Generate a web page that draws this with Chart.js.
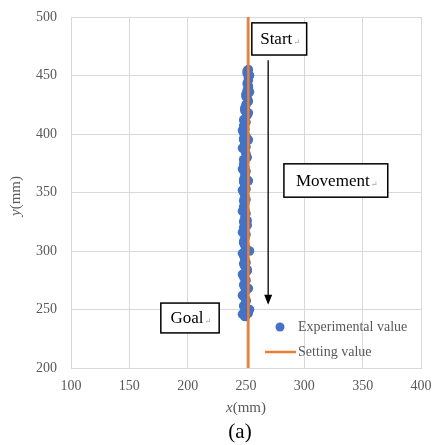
<!DOCTYPE html>
<html>
<head>
<meta charset="utf-8">
<script src="https://cdn.jsdelivr.net/npm/chart.js@4"></script>
<style>
  html, body { margin: 0; padding: 0; background: #fff; overflow: hidden; }
  #wrap { width: 432px; height: 445px; position: relative; }
</style>
</head>
<body>
<div id="wrap"><canvas id="chart_path"></canvas></div>
<script>
// experimental path (mm)
let exp_x = [252, 251, 252, 252, 251, 252, 251, 250, 251, 252, 250, 249, 250, 251, 249, 250, 248, 249, 248, 250,
             248, 249, 250, 249, 250, 251, 249, 248, 249, 250, 249, 250, 248, 249, 250, 248, 249, 250, 249, 248,
             249, 250, 249, 251, 249, 248, 249, 250, 249, 248, 249, 250, 249, 248, 249, 250, 249, 251, 249, 248,
             250, 249, 249, 250, 248, 249, 250, 249, 250, 249, 250, 252, 253, 252, 253, 252,
             251, 253, 252, 250, 249, 248, 247, 248, 247, 248, 247, 248, 247, 248, 247, 248,
             247, 248, 247, 248, 247, 248, 247, 248, 247, 249, 250, 251, 251, 252, 252, 253];
let exp_y = [455, 452, 449, 446, 443, 440, 437, 434, 431, 428, 425, 422, 419, 416, 413, 410, 407, 404, 401, 398,
             395, 392, 389, 386, 383, 380, 377, 374, 371, 368, 365, 362, 359, 356, 353, 350, 347, 344, 341, 338,
             335, 332, 329, 326, 323, 320, 317, 314, 311, 308, 305, 302, 299, 296, 293, 290, 287, 284, 281, 278,
             275, 272, 269, 266, 263, 260, 257, 254, 251, 248, 245, 360, 300, 268, 250, 247,
             454, 450, 441, 432, 420, 412, 403, 396, 388, 378, 370, 361, 352, 343, 334, 325,
             316, 307, 298, 289, 280, 271, 262, 253, 246, 244, 258, 283, 322, 395, 418, 436];
// setting value (mm)
let set_x = [252, 252];
let set_y = [200, 500];

let x_ticks = [100, 150, 200, 250, 300, 350, 400];
let y_ticks = [200, 250, 300, 350, 400, 450, 500];

let legend_labels = ['Experimental value', 'Setting value'];

let serif = "'Liberation Serif', 'DejaVu Serif', serif";
let grey_text = '#595959';

let exp_points = exp_x.map((v, i) => ({ x: v, y: exp_y[i] }));
let set_points = set_x.map((v, i) => ({ x: v, y: set_y[i] }));

function drawBox(ctx, sx, sy, x0, y0, x1, y1, text) {
    let l = sx.getPixelForValue(x0), r = sx.getPixelForValue(x1);
    let t = sy.getPixelForValue(y0), b = sy.getPixelForValue(y1);
    ctx.fillStyle = '#fff';
    ctx.fillRect(l, t, r - l, b - t);
    ctx.strokeStyle = '#000';
    ctx.lineWidth = 1.5;
    ctx.strokeRect(l, t, r - l, b - t);
    ctx.font = '17px ' + serif;
    ctx.fillStyle = '#000';
    ctx.textBaseline = 'middle';
    ctx.textAlign = 'left';
    let w = ctx.measureText(text).width;
    let cx = (l + r) / 2 - (w + 6) / 2;
    ctx.fillText(text, cx, (t + b) / 2 + 1);
    ctx.font = '8px ' + serif;
    ctx.fillStyle = '#999';
    ctx.fillText('\u21B5', cx + w + 1, (t + b) / 2 + 4);
}

let annotations = {
    id: 'annotations',
    afterDatasetsDraw(chart) {
        let ctx = chart.ctx;
        let sx = chart.scales.x, sy = chart.scales.y;
        let area = chart.chartArea;
        ctx.save();

        // arrow
        let ax = sx.getPixelForValue(269);
        let ay0 = sy.getPixelForValue(463), ay1 = sy.getPixelForValue(254);
        ctx.strokeStyle = '#000';
        ctx.lineWidth = 1.3;
        ctx.beginPath();
        ctx.moveTo(ax, ay0);
        ctx.lineTo(ax, ay1 - 8);
        ctx.stroke();
        ctx.fillStyle = '#000';
        ctx.beginPath();
        ctx.moveTo(ax - 4, ay1 - 10);
        ctx.lineTo(ax + 4, ay1 - 10);
        ctx.lineTo(ax, ay1);
        ctx.closePath();
        ctx.fill();

        drawBox(ctx, sx, sy, 255, 495, 302, 467.5, 'Start');
        drawBox(ctx, sx, sy, 282.5, 374.5, 371.5, 346, 'Movement');
        drawBox(ctx, sx, sy, 177, 255.5, 227, 230, 'Goal');

        // legend
        let ds = chart.data.datasets;
        ctx.font = '14px ' + serif;
        ctx.textAlign = 'left';
        ctx.textBaseline = 'middle';
        ctx.fillStyle = ds[0].backgroundColor;
        ctx.beginPath();
        ctx.arc(280, 327, 4.5, 0, Math.PI * 2);
        ctx.fill();
        ctx.fillStyle = grey_text;
        ctx.fillText(legend_labels[0], 298, 327);
        ctx.strokeStyle = ds[1].borderColor;
        ctx.lineWidth = 2.5;
        ctx.beginPath();
        ctx.moveTo(265, 352);
        ctx.lineTo(296, 352);
        ctx.stroke();
        ctx.fillText(legend_labels[1], 298, 352);

        // axis titles
        let cx = (area.left + area.right) / 2;
        ctx.font = 'italic 15px ' + serif;
        let wi = ctx.measureText('x').width;
        ctx.font = '15px ' + serif;
        let wr = ctx.measureText('(mm)').width;
        let x0 = cx - (wi + wr) / 2;
        ctx.fillStyle = grey_text;
        ctx.font = 'italic 15px ' + serif;
        ctx.fillText('x', x0, 408);
        ctx.font = '15px ' + serif;
        ctx.fillText('(mm)', x0 + wi, 408);

        ctx.save();
        ctx.translate(16, 196);
        ctx.rotate(-Math.PI / 2);
        ctx.font = 'italic 15px ' + serif;
        wi = ctx.measureText('y').width;
        x0 = -(wi + wr) / 2;
        ctx.fillText('y', x0, 0);
        ctx.font = '15px ' + serif;
        ctx.fillText('(mm)', x0 + wi, 0);
        ctx.restore();

        ctx.fillStyle = '#000';
        ctx.font = '21px ' + serif;
        ctx.textAlign = 'center';
        ctx.fillText('(a)', 240, 432);
        ctx.restore();
    }
};

let ctx_path = document.getElementById("chart_path");
let chart_path = new Chart(ctx_path, {
    type: 'scatter',
    data: {
        datasets: [{
            label: legend_labels[0],
            data: exp_points,
            backgroundColor: '#4472C4',
            pointBorderWidth: 0,
            pointRadius: 4.8,
            order: 2
        }, {
            label: legend_labels[1],
            type: 'line',
            data: set_points,
            borderColor: '#ED7D31',
            borderWidth: 2.5,
            pointRadius: 0,
            showLine: true,
            order: 1
        }]
    },
    plugins: [annotations],
    options: {
        responsive: true,
        maintainAspectRatio: false,
        animation: false,
        layout: {
            padding: { top: 17, right: 11, left: 0, bottom: 0 }
        },
        plugins: {
            legend: { display: false },
            tooltip: { enabled: false }
        },
        scales: {
            x: {
                type: 'linear',
                min: 100,
                max: 400,
                afterBuildTicks: (s) => { s.ticks = x_ticks.map(v => ({ value: v })); },
                afterFit: (s) => { s.height = 77; s.paddingLeft = 0; s.paddingRight = 0; },
                grid: { color: '#d9d9d9', drawTicks: false },
                border: { color: '#d9d9d9' },
                ticks: {
                    padding: 10,
                    color: grey_text,
                    font: { family: serif, size: 14 }
                }
            },
            y: {
                type: 'linear',
                min: 200,
                max: 500,
                afterBuildTicks: (s) => { s.ticks = y_ticks.map(v => ({ value: v })); },
                afterFit: (s) => { s.width = 71; s.paddingTop = 0; s.paddingBottom = 0; },
                grid: { color: '#d9d9d9', drawTicks: false },
                border: { color: '#d9d9d9' },
                ticks: {
                    padding: 14,
                    color: grey_text,
                    font: { family: serif, size: 14 }
                }
            }
        }
    }
});
</script>
</body>
</html>
